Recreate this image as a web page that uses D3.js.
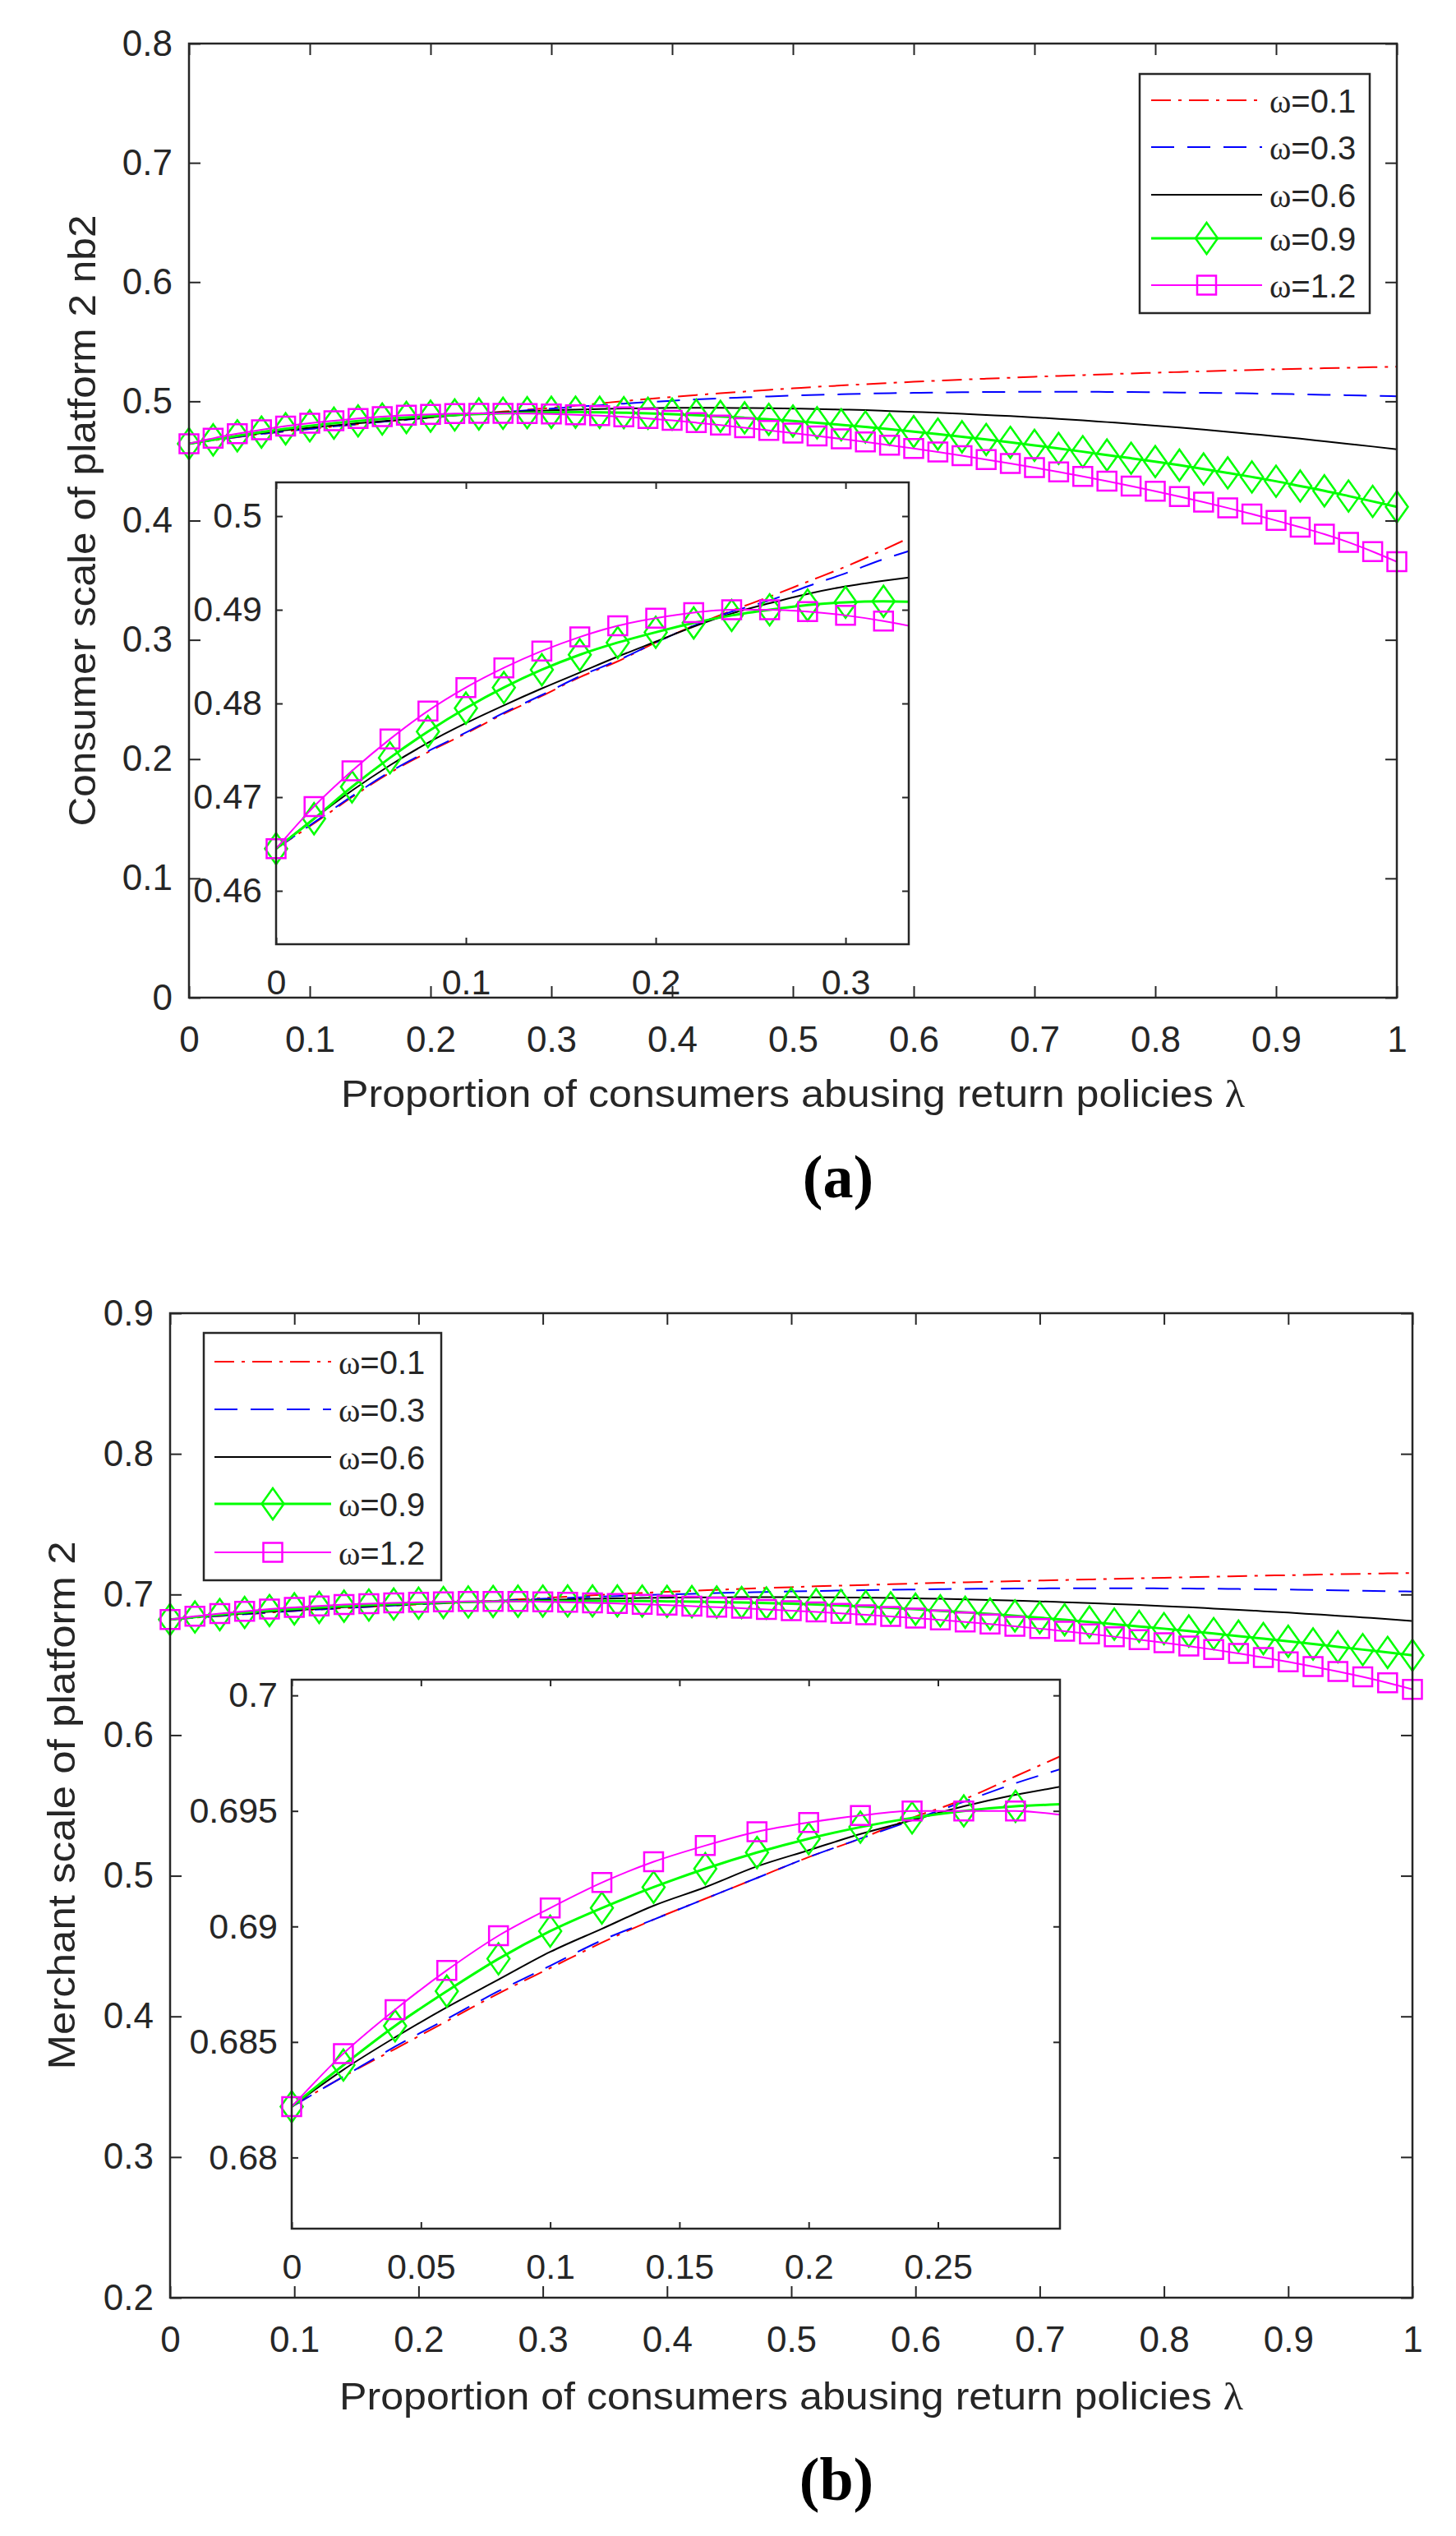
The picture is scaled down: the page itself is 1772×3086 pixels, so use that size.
<!DOCTYPE html>
<html><head><meta charset="utf-8">
<script src="https://cdn.jsdelivr.net/npm/d3@7"></script>
<style>body{margin:0;background:#fff}</style>
</head><body><svg id="chart" width="1772" height="3086"></svg>
<script>
// ---------------- DATA ----------------
const lambda = [0,0.02,0.04,0.06,0.08,0.1,0.12,0.14,0.16,0.18,0.2,0.22,0.24,0.26,0.28,0.3,0.32,0.34,0.36,0.38,0.4,0.42,0.44,0.46,0.48,0.5,0.52,0.54,0.56,0.58,0.6,0.62,0.64,0.66,0.68,0.7,0.72,0.74,0.76,0.78,0.8,0.82,0.84,0.86,0.88,0.9,0.92,0.94,0.96,0.98,1];
const seriesNames = ["0.1","0.3","0.6","0.9","1.2"];

// (a) consumer scale of platform 2
const a_w01 = [0.4645,0.4672,0.4700,0.4726,0.4748,0.4768,0.4789,0.4808,0.4828,0.4845,
 0.4865,0.4883,0.4899,0.4914,0.4930,0.4946,0.4964,0.4983,0.5002,0.5020,
 0.5037,0.5053,0.5068,0.5082,0.5096,0.5109,0.5122,0.5133,0.5144,0.5154,
 0.5164,0.5173,0.5182,0.5190,0.5198,0.5206,0.5213,0.5220,0.5227,0.5234,
 0.5240,0.5246,0.5252,0.5258,0.5263,0.5268,0.5273,0.5278,0.5282,0.5286,0.5290];
const a_w03 = [0.4645,0.4673,0.4701,0.4727,0.4749,0.4769,0.4790,0.4809,0.4829,0.4846,
 0.4865,0.4883,0.4898,0.4910,0.4925,0.4939,0.4954,0.4967,0.4981,0.4994,
 0.5005,0.5016,0.5025,0.5033,0.5041,0.5048,0.5054,0.5059,0.5064,0.5068,
 0.5071,0.5074,0.5076,0.5078,0.5079,0.5080,0.5080,0.5080,0.5079,0.5078,
 0.5076,0.5074,0.5071,0.5069,0.5066,0.5063,0.5059,0.5055,0.5051,0.5047,0.5043];
const a_w06 = [0.4645,0.4677,0.4707,0.4734,0.4758,0.4779,0.4798,0.4816,0.4833,0.4850,
 0.4866,0.4882,0.4896,0.4907,0.4917,0.4925,0.4931,0.4936,0.4940,0.4943,
 0.4945,0.4946,0.4946,0.4944,0.4942,0.4939,0.4936,0.4931,0.4926,0.4919,
 0.4912,0.4905,0.4896,0.4886,0.4876,0.4865,0.4853,0.4840,0.4826,0.4812,
 0.4796,0.4780,0.4763,0.4745,0.4726,0.4707,0.4687,0.4665,0.4643,0.4621,0.4597];
const a_w09 = [0.4645,0.4677,0.4711,0.4742,0.4770,0.4795,0.4817,0.4836,0.4852,0.4865,
 0.4876,0.4886,0.4894,0.4900,0.4905,0.4908,0.4909,0.4908,0.4905,0.4900,
 0.4893,0.4884,0.4874,0.4862,0.4849,0.4835,0.4820,0.4803,0.4785,0.4766,
 0.4746,0.4725,0.4703,0.4680,0.4656,0.4631,0.4605,0.4578,0.4550,0.4523,
 0.4495,0.4465,0.4433,0.4400,0.4366,0.4330,0.4290,0.4250,0.4206,0.4161,0.4115];
const a_w12 = [0.4645,0.4690,0.4728,0.4762,0.4792,0.4817,0.4838,0.4856,0.4871,0.4883,
 0.4891,0.4897,0.4900,0.4900,0.4898,0.4894,0.4888,0.4880,0.4870,0.4857,
 0.4840,0.4821,0.4801,0.4779,0.4757,0.4734,0.4710,0.4685,0.4659,0.4632,
 0.4604,0.4575,0.4544,0.4512,0.4479,0.4444,0.4408,0.4370,0.4331,0.4290,
 0.4247,0.4202,0.4155,0.4106,0.4055,0.4001,0.3945,0.3886,0.3818,0.3740,0.3655];

// (b) merchant scale of platform 2
const b_w01 = [0.6822,0.6835,0.6847,0.6859,0.6871,0.6882,0.6893,0.6903,0.6912,0.6921,
 0.6930,0.6938,0.6947,0.6955,0.6965,0.6975,0.6985,0.6994,0.7003,0.7011,
 0.7019,0.7026,0.7033,0.7040,0.7046,0.7052,0.7058,0.7063,0.7068,0.7073,
 0.7078,0.7083,0.7087,0.7091,0.7095,0.7099,0.7103,0.7107,0.7111,0.7115,
 0.7119,0.7123,0.7127,0.7130,0.7134,0.7137,0.7141,0.7144,0.7147,0.7150,0.7153];
const b_w03 = [0.6822,0.6835,0.6848,0.6860,0.6872,0.6883,0.6894,0.6903,0.6912,0.6921,
 0.6930,0.6938,0.6946,0.6954,0.6962,0.6969,0.6976,0.6983,0.6989,0.6995,
 0.7000,0.7005,0.7010,0.7014,0.7018,0.7022,0.7025,0.7028,0.7031,0.7034,
 0.7036,0.7038,0.7040,0.7041,0.7042,0.7043,0.7044,0.7044,0.7044,0.7044,
 0.7043,0.7042,0.7041,0.7039,0.7037,0.7035,0.7033,0.7030,0.7027,0.7024,0.7021];
const b_w06 = [0.6822,0.6838,0.6852,0.6865,0.6877,0.6889,0.6899,0.6909,0.6917,0.6926,
 0.6933,0.6940,0.6946,0.6952,0.6957,0.6961,0.6965,0.6969,0.6972,0.6975,
 0.6977,0.6979,0.6980,0.6981,0.6981,0.6981,0.6980,0.6979,0.6977,0.6975,
 0.6972,0.6969,0.6965,0.6961,0.6956,0.6951,0.6945,0.6939,0.6932,0.6925,
 0.6917,0.6909,0.6900,0.6891,0.6881,0.6871,0.6860,0.6849,0.6837,0.6825,0.6812];
const b_w09 = [0.6822,0.6840,0.6857,0.6872,0.6886,0.6898,0.6908,0.6917,0.6925,0.6932,
 0.6938,0.6943,0.6947,0.6950,0.6952,0.6953,0.6954,0.6954,0.6954,0.6953,
 0.6951,0.6949,0.6946,0.6943,0.6939,0.6935,0.6929,0.6922,0.6914,0.6905,
 0.6895,0.6884,0.6873,0.6861,0.6848,0.6835,0.6820,0.6805,0.6789,0.6773,
 0.6757,0.6740,0.6722,0.6704,0.6686,0.6667,0.6648,0.6628,0.6608,0.6588,0.6568];
const b_w12 = [0.6822,0.6845,0.6864,0.6881,0.6896,0.6908,0.6919,0.6928,0.6935,0.6941,
 0.6945,0.6948,0.6950,0.6950,0.6950,0.6948,0.6945,0.6941,0.6936,0.6930,
 0.6924,0.6917,0.6910,0.6902,0.6894,0.6885,0.6876,0.6866,0.6855,0.6844,
 0.6832,0.6819,0.6805,0.6790,0.6774,0.6757,0.6739,0.6720,0.6700,0.6679,
 0.6657,0.6633,0.6608,0.6581,0.6552,0.6521,0.6488,0.6452,0.6414,0.6372,0.6325];

// tick values
const mainXTicks = [0,0.1,0.2,0.3,0.4,0.5,0.6,0.7,0.8,0.9,1];
const aYTicks = [0,0.1,0.2,0.3,0.4,0.5,0.6,0.7,0.8];
const bYTicks = [0.2,0.3,0.4,0.5,0.6,0.7,0.8,0.9];
const aInsetXTicks = [0,0.1,0.2,0.3];
const aInsetYTicks = [0.46,0.47,0.48,0.49,0.5];
const bInsetXTicks = [0,0.05,0.1,0.15,0.2,0.25];
const bInsetYTicks = [0.68,0.685,0.69,0.695,0.7];

// ---------------- STYLE / LAYOUT ----------------
const SANS = "Liberation Sans, Arial, Helvetica, sans-serif";
const SERIF = "Liberation Serif, Times New Roman, serif";
const INK = "#262626";
const styles = [
  {color:"#ff0000", dash:"24,9,4,9", width:2, marker:null},
  {color:"#0000ff", dash:"28,16", width:2, marker:null},
  {color:"#000000", dash:null, width:2, marker:null},
  {color:"#00ff00", dash:null, width:3, marker:"diamond"},
  {color:"#ff00ff", dash:null, width:2, marker:"square"}
];

const panels = [
  {
    id:"a", series:[a_w01,a_w03,a_w06,a_w09,a_w12],
    main:{x:[230,1700], y:[1214,53], xd:[0,1], yd:[0,0.8], xt:mainXTicks, yt:aYTicks},
    inset:{x:[336,1106], y:[1149,587], xd:[0,0.3333], yd:[0.4543,0.5036], xt:aInsetXTicks, yt:aInsetYTicks},
    legend:{x0:1387, y0:90, x1:1667, y1:381, rows:[122,179,237,290,347], lx0:1401, lx1:1536, tx:1545},
    yTitle:"Consumer scale of platform 2 nb2", yTitleX:116, yTitleLen:744,
    xTitleY:1347, tag:"(a)", tagY:1457
  },
  {
    id:"b", series:[b_w01,b_w03,b_w06,b_w09,b_w12],
    main:{x:[207,1719], y:[2796,1598], xd:[0,1], yd:[0.2,0.9], xt:mainXTicks, yt:bYTicks},
    inset:{x:[355,1290], y:[2712,2044], xd:[0,0.2972], yd:[0.67692,0.70068], xt:bInsetXTicks, yt:bInsetYTicks},
    legend:{x0:248, y0:1622, x1:537, y1:1923, rows:[1657,1715,1773,1830,1889], lx0:261, lx1:403, tx:412},
    yTitle:"Merchant scale of platform 2", yTitleX:91, yTitleLen:643,
    xTitleY:2932, tag:"(b)", tagY:3042
  }
];

const svg = d3.select("#chart");
svg.append("rect").attr("width",1772).attr("height",3086).attr("fill","#fff");
const defs = svg.append("defs");
const fmt = d => String(+d.toFixed(4));

function markerPath(type){
  if(type==="diamond") return "M0,-19L13.5,0L0,19L-13.5,0Z";
  if(type==="square") return "M-11.5,-11.5H11.5V11.5H-11.5Z";
  return null;
}

function drawSeries(g, xs, ys, series, clipId, markerMaxX){
  const line = d3.line().x(d=>xs(d[0])).y(d=>ys(d[1])).curve(d3.curveMonotoneX);
  series.forEach((vals,i)=>{
    const st = styles[i];
    const pts = lambda.map((l,k)=>[l,vals[k]]);
    const p = g.append("path").datum(pts).attr("d",line)
      .attr("fill","none").attr("stroke",st.color).attr("stroke-width",st.width)
      .attr("stroke-linejoin","round");
    if(st.dash) p.attr("stroke-dasharray",st.dash);
    if(clipId) p.attr("clip-path",`url(#${clipId})`);
    if(st.marker){
      g.append("g").selectAll("path").data(pts.filter(d=>d[0]<=markerMaxX+1e-9)).join("path")
        .attr("d",markerPath(st.marker))
        .attr("transform",d=>`translate(${xs(d[0])},${ys(d[1])})`)
        .attr("fill","none").attr("stroke",st.color).attr("stroke-width",2.5);
    }
  });
}

function drawAxes(g, xs, ys, xt, yt, o){
  const X0=xs.range()[0], X1=xs.range()[1], Yb=ys.range()[0], Yt=ys.range()[1];
  const style = sel => {
    sel.attr("font-size",null).attr("font-family",null);
    sel.select(".domain").remove();
    sel.selectAll(".tick line").attr("stroke",INK).attr("stroke-width",2);
    sel.selectAll(".tick text").attr("font-size",o.fs).attr("font-family",SANS).attr("fill",INK);
  };
  g.append("g").attr("transform",`translate(0,${Yb})`)
    .call(d3.axisBottom(xs).tickValues(xt).tickFormat(fmt).tickSizeInner(-o.tl).tickSizeOuter(0).tickPadding(o.px)).call(style);
  g.append("g").attr("transform",`translate(0,${Yt})`)
    .call(d3.axisTop(xs).tickValues(xt).tickFormat(()=>"").tickSizeInner(-o.tl).tickSizeOuter(0)).call(style);
  g.append("g").attr("transform",`translate(${X0},0)`)
    .call(d3.axisLeft(ys).tickValues(yt).tickFormat(fmt).tickSizeInner(-o.tl).tickSizeOuter(0).tickPadding(o.py)).call(style);
  g.append("g").attr("transform",`translate(${X1},0)`)
    .call(d3.axisRight(ys).tickValues(yt).tickFormat(()=>"").tickSizeInner(-o.tl).tickSizeOuter(0)).call(style);
  g.append("rect").attr("x",X0).attr("y",Yt).attr("width",X1-X0).attr("height",Yb-Yt)
    .attr("fill","none").attr("stroke",INK).attr("stroke-width",2.5);
}

panels.forEach(P=>{
  const g = svg.append("g");
  const m = P.main, ins = P.inset;
  const xs = d3.scaleLinear().domain(m.xd).range(m.x);
  const ys = d3.scaleLinear().domain(m.yd).range(m.y);

  // main series
  drawSeries(g.append("g"), xs, ys, P.series, null, 1);

  // inset
  const xi = d3.scaleLinear().domain(ins.xd).range(ins.x);
  const yi = d3.scaleLinear().domain(ins.yd).range(ins.y);
  const clipId = "clip-"+P.id;
  defs.append("clipPath").attr("id",clipId).append("rect")
    .attr("x",ins.x[0]).attr("y",ins.y[1]).attr("width",ins.x[1]-ins.x[0]).attr("height",ins.y[0]-ins.y[1]);
  const gi = g.append("g");
  gi.append("rect").attr("x",ins.x[0]).attr("y",ins.y[1]).attr("width",ins.x[1]-ins.x[0]).attr("height",ins.y[0]-ins.y[1]).attr("fill","#fff");
  drawSeries(gi, xi, yi, P.series, clipId, ins.xd[1]);
  drawAxes(gi, xi, yi, ins.xt, ins.yt, {fs:43, tl:8, px:30, py:17});

  // main axes
  drawAxes(g.append("g"), xs, ys, m.xt, m.yt, {fs:44, tl:14, px:35, py:20});

  // titles
  g.append("text").attr("x",(m.x[0]+m.x[1])/2).attr("y",P.xTitleY)
    .attr("text-anchor","middle").attr("font-family",SANS).attr("font-size",47).attr("fill",INK)
    .attr("textLength",1100).attr("lengthAdjust","spacingAndGlyphs")
    .call(t=>{ t.append("tspan").text("Proportion of consumers abusing return policies ");
               t.append("tspan").attr("font-family",SERIF).text("λ"); });
  g.append("text").attr("transform",`translate(${P.yTitleX},${(m.y[0]+m.y[1])/2}) rotate(-90)`)
    .attr("text-anchor","middle").attr("font-family",SANS).attr("font-size",47).attr("fill",INK)
    .attr("textLength",P.yTitleLen).attr("lengthAdjust","spacingAndGlyphs")
    .text(P.yTitle);
  g.append("text").attr("x",(m.x[0]+m.x[1])/2+55).attr("y",P.tagY)
    .attr("text-anchor","middle").attr("font-family",SERIF).attr("font-weight","bold")
    .attr("font-size",74).attr("fill","#000").text(P.tag);

  // legend
  const L = P.legend;
  const gl = g.append("g");
  gl.append("rect").attr("x",L.x0).attr("y",L.y0).attr("width",L.x1-L.x0).attr("height",L.y1-L.y0)
    .attr("fill","#fff").attr("stroke",INK).attr("stroke-width",2.5);
  seriesNames.forEach((nm,i)=>{
    const st = styles[i], y = L.rows[i];
    const ln = gl.append("line").attr("x1",L.lx0).attr("x2",L.lx1).attr("y1",y).attr("y2",y)
      .attr("stroke",st.color).attr("stroke-width",st.width);
    if(st.dash) ln.attr("stroke-dasharray",st.dash);
    if(st.marker){
      gl.append("path").attr("d",markerPath(st.marker))
        .attr("transform",`translate(${(L.lx0+L.lx1)/2},${y})`)
        .attr("fill","none").attr("stroke",st.color).attr("stroke-width",2.5);
    }
    const t = gl.append("text").attr("x",L.tx).attr("y",y+15)
      .attr("font-family",SANS).attr("font-size",40).attr("fill",INK);
    t.append("tspan").attr("font-family",SERIF).text("ω");
    t.append("tspan").text("="+nm);
  });
});
</script>
</body></html>
